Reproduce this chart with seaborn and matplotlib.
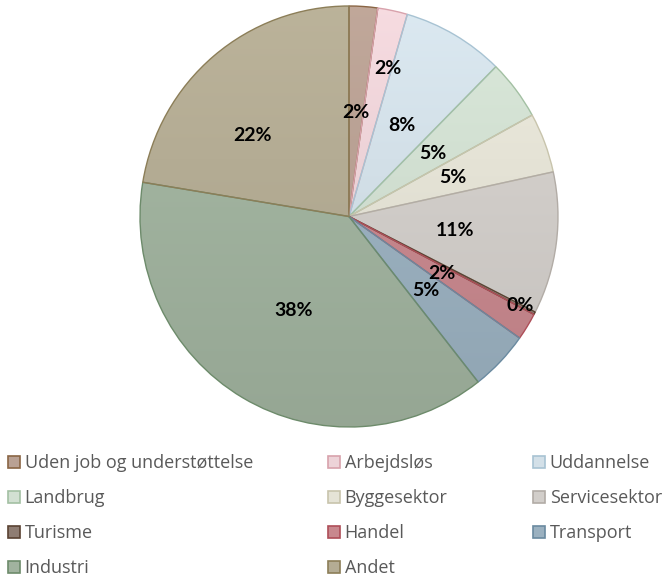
import matplotlib
matplotlib.use("Agg")
import matplotlib.pyplot as plt
from matplotlib.patches import Patch
from matplotlib.colors import to_rgb
import numpy as np
import seaborn as sns

sns.set_theme(style="white")
plt.rcParams["font.family"] = ["Lato", "DejaVu Sans"]

categories = [
    "Uden job og understøttelse", "Arbejdsløs", "Uddannelse", "Landbrug",
    "Byggesektor", "Servicesektor", "Turisme", "Handel", "Transport",
    "Industri", "Andet",
]
shares = [2.2, 2.3, 7.9, 4.6, 4.6, 10.9, 0.2, 2.1, 4.6, 38.2, 22.4]

fills = ["#B9A194", "#EDD3D8", "#D3E0E8", "#D2E0D2", "#E5E3D6", "#D2CECA",
         "#8F7D73", "#C8888E", "#9BB1C0", "#A1B39F", "#B4AC94"]
edges = ["#8A6544", "#D8A2AC", "#A8C3D3", "#A3C0A3", "#C8C4AC", "#B2ACA6",
         "#5A4232", "#AE4E58", "#6A8AA0", "#6D8B6B", "#8C7E58"]

# label placement: fraction of radius and angular nudge (degrees)
label_r = [0.495, 0.725, 0.5, 0.5, 0.53, 0.51, 0.92, 0.52, 0.51, 0.52, 0.6]
label_da = [0, -2.8, 0, 0, 0, 0, 0, 0, 0, 0, 9.7]

fig = plt.figure(figsize=(6.68, 5.77), dpi=100)
ax = fig.add_axes([0.2096, 0.26, 0.6257, 0.7296])

wedges, texts, autotexts = ax.pie(
    shares, startangle=90, counterclock=False, colors=fills,
    autopct="%.0f%%", pctdistance=0.5,
    wedgeprops=dict(linewidth=1.0),
    textprops=dict(fontsize=14, fontweight="bold", color="black"),
)

# soft vertical shading like the office chart, clipped to each slice
shade = np.linspace(1.04, 0.93, 256)
for w, f, ec in zip(wedges, fills, edges):
    img = np.clip(np.array(to_rgb(f))[None, None, :] * shade[:, None, None], 0, 1)
    im = ax.imshow(img, extent=(-1, 1, -1, 1), aspect="auto", zorder=0.5)
    im.set_clip_path(w)
    w.set_facecolor("none")
    w.set_edgecolor(ec)

for w, t, r, da in zip(wedges, autotexts, label_r, label_da):
    mid = np.deg2rad((w.theta1 + w.theta2) / 2 + da)
    t.set_position((r * np.cos(mid), r * np.sin(mid)))

ax.set_aspect("auto")
ax.set_xlim(-1.0, 1.0)
ax.set_ylim(-1.0, 1.0)
ax.axis("off")

handles = [Patch(facecolor=f, edgecolor=e, linewidth=1.2) for f, e in zip(fills, edges)]
col_x = [0.012, 0.491, 0.798]
for c in range(3):
    idx = list(range(c, len(categories), 3))
    fig.legend(
        [handles[i] for i in idx], [categories[i] for i in idx],
        loc="upper left", bbox_to_anchor=(col_x[c], 0.2125),
        frameon=False, prop={"family": ["Open Sans", "DejaVu Sans"], "size": 13},
        labelcolor="#595959",
        handlelength=0.67, handleheight=0.67, handletextpad=0.25,
        labelspacing=0.94, borderaxespad=0, borderpad=0,
    )

fig.savefig("out.png", dpi=100)
